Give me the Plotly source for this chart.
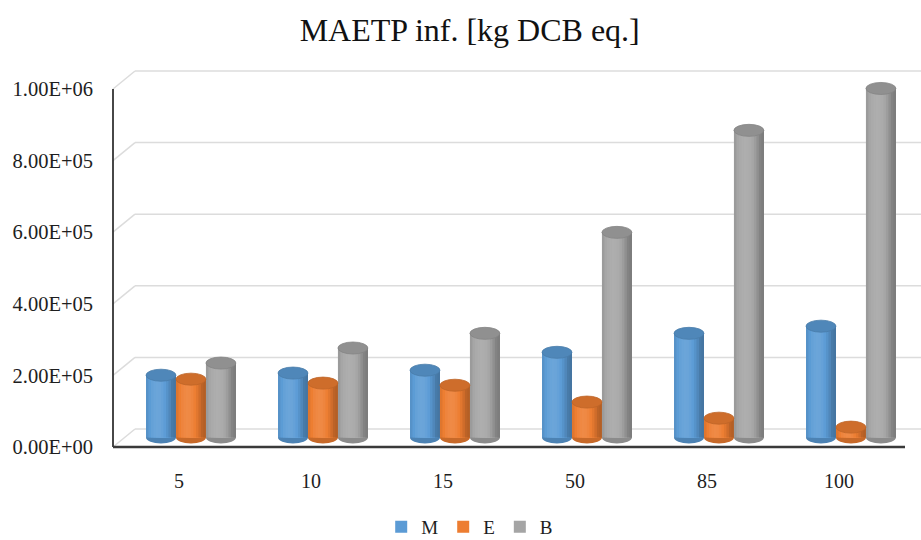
import math
import plotly.graph_objects as go

# Data
categories = ["5", "10", "15", "50", "85", "100"]
series_names = ["M", "E", "B"]
values_M = [1.74e5, 1.80e5, 1.88e5, 2.38e5, 2.91e5, 3.11e5]
values_E = [1.63e5, 1.52e5, 1.46e5, 0.99e5, 0.54e5, 0.29e5]
values_B = [2.08e5, 2.50e5, 2.91e5, 5.73e5, 8.58e5, 9.75e5]
y_tickvals = [0, 2e5, 4e5, 6e5, 8e5, 1e6]
y_ticktext = ["0.00E+00", "2.00E+05", "4.00E+05", "6.00E+05", "8.00E+05", "1.00E+06"]

series_values = [values_M, values_E, values_B]
base_colors = ["#5b9bd5", "#ed7d31", "#a5a5a5"]

# Geometry / style
W, H = 921, 540
M_L, M_R, M_T, M_B = 113, 16, 60, 90
PLOT_W = W - M_L - M_R
PLOT_H = H - M_T - M_B
PX_PER_UNIT = 358 / 1e6          # vertical pixels per value unit
BAR_W = 0.227                    # bar width in category units
BAR_OFFSETS = [-0.25, -0.023, 0.204]
N_STRIPS = 12                    # strips used to shade each cylinder
ELL_PX = 6.0                     # half height of cylinder cap ellipses (px)
DEPTH_DX, DEPTH_DY = 22, 18      # depth shift of the back wall (px)
SERIF = "Liberation Serif, Times New Roman, serif"


def axis_range(zero_px):
    """Value range of an overlaid axis whose zero sits at a given pixel row."""
    lo = -((M_T + PLOT_H) - zero_px) / PX_PER_UNIT
    hi = (zero_px - M_T) / PX_PER_UNIT
    return [lo, hi]


def hex_to_rgb(h):
    h = h.lstrip("#")
    return [int(h[i:i + 2], 16) for i in (0, 2, 4)]


def shade(hex_color, f):
    r, g, b = hex_to_rgb(hex_color)
    if f >= 1:
        t = min(f - 1, 1)
        r, g, b = [c + (255 - c) * t for c in (r, g, b)]
    else:
        r, g, b = [c * f for c in (r, g, b)]
    return "rgb(%d,%d,%d)" % (round(r), round(g), round(b))


def light(u):
    # soft cylindrical lighting, brightest a little left of centre
    c = math.cos((u - 0.38) * math.pi * 0.95)
    return 0.76 + 0.34 * max(c, 0.0)


x_idx = list(range(len(categories)))
fig = go.Figure()

# Cylinder bodies: each strip runs from its left edge to the cylinder's right
# edge, later strips overlying earlier ones, so the shading has no seams.
for s, (vals, col) in enumerate(zip(series_values, base_colors)):
    sw = BAR_W / N_STRIPS
    for k in range(N_STRIPS):
        u = (k + 0.5) / N_STRIPS
        fig.add_trace(go.Bar(
            x=x_idx, y=vals, yaxis="y2",
            offset=BAR_OFFSETS[s] + k * sw, width=BAR_W - k * sw,
            marker=dict(color=shade(col, light(u)), line=dict(width=0)),
            showlegend=False, hoverinfo="skip",
        ))
    # legend entry
    fig.add_trace(go.Bar(
        x=[None], y=[None], name=series_names[s],
        marker=dict(color=col, line=dict(width=0)), yaxis="y2",
    ))

shapes = []
ell = ELL_PX / PX_PER_UNIT
for s, (vals, col) in enumerate(zip(series_values, base_colors)):
    for i, v in enumerate(vals):
        x0 = i + BAR_OFFSETS[s]
        x1 = x0 + BAR_W
        # bottom cap (only its lower half shows under the body)
        shapes.append(dict(type="circle", xref="x", yref="y2", layer="below",
                           x0=x0, x1=x1, y0=-ell, y1=ell,
                           fillcolor=shade(col, 0.84), line=dict(width=0)))
        # top cap
        shapes.append(dict(type="circle", xref="x", yref="y2", layer="above",
                           x0=x0, x1=x1, y0=v - ell, y1=v + ell,
                           fillcolor=shade(col, 0.87),
                           line=dict(color=shade(col, 0.8), width=0.8)))

# Back wall gridlines with perspective connectors
dv = DEPTH_DY / PX_PER_UNIT
for tv in y_tickvals:
    shapes.append(dict(type="line", xref="paper", yref="y3", layer="below",
                       x0=DEPTH_DX / PLOT_W, x1=1 + M_R / PLOT_W, y0=tv, y1=tv,
                       line=dict(color="#dcdcdc", width=1.5)))
    shapes.append(dict(type="line", xref="paper", yref="y3", layer="below",
                       x0=0, x1=DEPTH_DX / PLOT_W, y0=tv - dv, y1=tv,
                       line=dict(color="#dcdcdc", width=1.5)))

# Front axis lines
shapes.append(dict(type="line", xref="paper", yref="y", layer="above",
                   x0=0, x1=0, y0=0, y1=y_tickvals[-1],
                   line=dict(color="#333333", width=1.8)))
shapes.append(dict(type="line", xref="paper", yref="y", layer="above",
                   x0=0, x1=1, y0=0, y1=0,
                   line=dict(color="#3a3a3a", width=2.5)))

fig.update_layout(
    width=W, height=H,
    margin=dict(l=M_L, r=M_R, t=M_T, b=M_B, autoexpand=False),
    paper_bgcolor="white", plot_bgcolor="white",
    barmode="overlay",
    shapes=shapes,
    title=dict(text="MAETP inf. [kg DCB eq.]", x=0.51, xref="container",
               y=1 - 30 / H, yref="container", xanchor="center", yanchor="middle",
               font=dict(family=SERIF, size=32, color="#111111")),
    font=dict(family=SERIF, color="#1e1e1e"),
    xaxis=dict(range=[-0.5, len(categories) - 0.5], tickvals=x_idx, ticktext=categories,
               showgrid=False, zeroline=False, showline=False, ticks="",
               ticklabelstandoff=17, tickfont=dict(family=SERIF, size=20, color="#1e1e1e")),
    yaxis=dict(range=axis_range(447), tickvals=y_tickvals, ticktext=y_ticktext,
               showgrid=False, zeroline=False, showline=False, ticks="",
               ticklabelstandoff=19, tickfont=dict(family=SERIF, size=20.5, color="#1e1e1e")),
    yaxis2=dict(range=axis_range(437.5), overlaying="y", visible=False),
    yaxis3=dict(range=axis_range(429), overlaying="y", visible=False),
    legend=dict(orientation="h", x=0.51, xref="container", xanchor="center",
                y=13 / H, yref="container", yanchor="middle",
                font=dict(family=SERIF, size=19, color="#1e1e1e"),
                itemwidth=30, traceorder="normal"),
    showlegend=True,
)

fig.write_html("out.html")
